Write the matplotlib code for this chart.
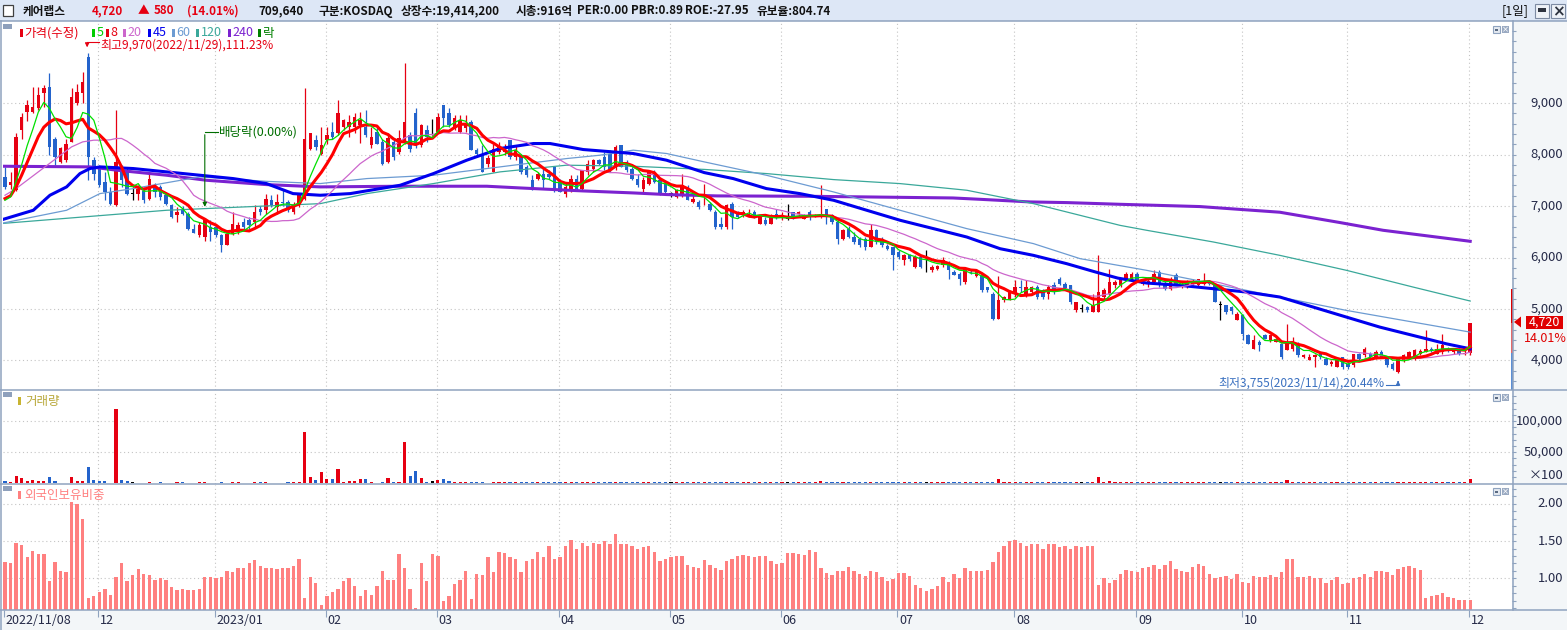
import numpy as np
import pandas as pd
import matplotlib
matplotlib.use('Agg')
import matplotlib.pyplot as plt
import matplotlib.transforms as mtrans
from matplotlib.patches import Rectangle, Polygon

KR = ['Noto Sans CJK KR', 'DejaVu Sans']
plt.rcParams['font.family'] = KR

# daily candles, 2022/11/08 .. 2023/12/01 (trading days)
opens = [
    7566, 7400, 7310, 8474, 8830, 8830, 8900, 9190, 9320, 8310,
    7860, 7890, 8250, 9000, 9190, 9900, 7890, 7760, 7470, 7275,
    7015, 7760, 7700, 7240, 7240, 7300, 7145, 7370, 7370, 7210,
    7015, 6820, 6950, 6850, 6560, 6430, 6400, 6594, 6593, 6430,
    6236, 6464, 6496, 6691, 6720, 6691, 6950, 6918, 7112, 6983,
    7080, 7080, 6885, 7015, 7145, 8118, 8280, 8021, 8280, 8442,
    8410, 8540, 8540, 8540, 8570, 8540, 8183, 8442, 8248, 7858,
    8248, 8053, 8248, 8378, 8799, 8183, 8475, 8410, 8442, 8961,
    8799, 8540, 8442, 8510, 8637, 8086, 7988, 7826, 7664, 8053,
    8053, 8280, 7960, 7988, 7761, 7502, 7534, 7631, 7630, 7761,
    7469, 7242, 7339, 7534, 7339, 7664, 7729, 7891, 7955, 8021,
    7761, 8183, 7826, 7729, 7534, 7339, 7437, 7664, 7502, 7437,
    7242, 7177, 7210, 7372, 7080, 7080, 7180, 7047, 6885, 6658,
    6593, 7047, 6853, 6820, 6820, 6885, 6658, 6723, 6658, 6850,
    6760, 6755, 6885, 6850, 6750, 6885, 6790, 6788, 6950, 6820,
    6690, 6366, 6561, 6398, 6366, 6366, 6204, 6528, 6366, 6230,
    6204, 6107, 5944, 6040, 5815, 6009, 5944, 5750, 5780, 5847,
    5912, 5717, 5685, 5523, 5720, 5650, 5652, 5420, 5296, 4809,
    5166, 5166, 5296, 5430, 5260, 5330, 5425, 5360, 5290, 5460,
    5588, 5490, 5458, 4971, 5004, 5037, 4939, 4939, 5231, 5297,
    5458, 5458, 5588, 5590, 5685, 5491, 5520, 5523, 5718, 5459,
    5394, 5653, 5426, 5426, 5490, 5459, 5490, 5550, 5491, 5069,
    5069, 5040, 4778, 4875, 4486, 4226, 4356, 4490, 4388, 4360,
    4323, 4194, 4220, 4323, 4064, 4000, 4064, 4130, 4031, 3930,
    3869, 4064, 3934, 3902, 4129, 4096, 4129, 4064, 4160, 4064,
    3934, 3772, 4000, 4031, 4031, 4129, 4160, 4226, 4129, 4160,
    4226, 4160, 4226, 4129, 4140]
highs = [
    7761, 7660, 8410, 8800, 9060, 9320, 9320, 9350, 9580, 8340,
    8150, 8300, 9290, 9380, 9610, 9970, 7955, 7790, 7660, 7370,
    8860, 7790, 7760, 7370, 7400, 7370, 7660, 7440, 7400, 7240,
    7047, 6980, 7000, 6880, 6660, 6690, 6760, 6720, 6626, 6460,
    6530, 6885, 6690, 6760, 6790, 7015, 7000, 7240, 7210, 7240,
    7340, 7110, 7080, 7240, 9285, 8410, 8380, 8540, 8540, 8640,
    9060, 8700, 8770, 8800, 8830, 8860, 8540, 8540, 8310, 8410,
    8280, 8470, 9772, 8440, 8900, 8600, 8570, 8700, 8800, 8961,
    8900, 8770, 8770, 8770, 8670, 8120, 8180, 7988, 8215, 8250,
    8200, 8280, 8180, 8020, 7790, 7600, 7660, 7760, 7700, 7761,
    7530, 7440, 7600, 7600, 7696, 7890, 7920, 7920, 8050, 8080,
    8180, 8183, 7890, 7760, 7630, 7560, 7700, 7700, 7530, 7470,
    7275, 7330, 7630, 7400, 7240, 7110, 7436, 7080, 6920, 6790,
    7047, 7080, 6900, 6920, 6950, 6920, 6790, 6790, 6850, 6950,
    6880, 7047, 6885, 6900, 6850, 6920, 6850, 7404, 6950, 6850,
    6720, 6560, 6620, 6500, 6400, 6400, 6660, 6560, 6400, 6270,
    6204, 6140, 6070, 6070, 6040, 6040, 6140, 5850, 5850, 6010,
    5940, 5750, 5717, 5782, 5760, 5780, 5652, 5430, 5330, 5633,
    5260, 5360, 5555, 5555, 5555, 5450, 5460, 5390, 5460, 5520,
    5620, 5520, 5458, 5134, 5100, 5060, 5290, 6042, 5400, 5783,
    5560, 5590, 5720, 5720, 5720, 5590, 5620, 5750, 5750, 5550,
    5620, 5690, 5520, 5560, 5590, 5590, 5700, 5560, 5491, 5160,
    5069, 5050, 4940, 4900, 4520, 4486, 4390, 4520, 4520, 4440,
    4323, 4713, 4450, 4350, 4130, 4130, 4130, 4160, 4064, 4000,
    4064, 4064, 3966, 4129, 4140, 4260, 4160, 4194, 4194, 4064,
    3966, 4064, 4130, 4190, 4220, 4220, 4583, 4260, 4323, 4518,
    4260, 4226, 4250, 4226, 4720]
lows = [
    7339, 7340, 7300, 8300, 8660, 8800, 8860, 8930, 7990, 7790,
    7830, 7850, 8250, 8960, 9000, 7500, 7500, 7370, 7110, 7015,
    7010, 7370, 7210, 7110, 7110, 7050, 7110, 7180, 7110, 7015,
    6760, 6690, 6820, 6530, 6470, 6400, 6330, 6330, 6400, 6110,
    6236, 6430, 6460, 6560, 6560, 6590, 6820, 6850, 6980, 6850,
    7000, 6890, 6850, 6980, 7110, 8090, 8090, 8000, 8210, 8310,
    8380, 8480, 8350, 8410, 8220, 8350, 8120, 8210, 7790, 7830,
    7890, 8020, 8215, 8050, 8120, 8150, 8250, 8380, 8410, 8540,
    8540, 8480, 8410, 8440, 8086, 7960, 7664, 7760, 7664, 8020,
    8000, 7920, 7890, 7630, 7570, 7307, 7500, 7340, 7530, 7275,
    7274, 7180, 7270, 7300, 7300, 7600, 7660, 7800, 7700, 7660,
    7700, 7761, 7660, 7500, 7370, 7270, 7400, 7440, 7210, 7210,
    7180, 7150, 7180, 7112, 7050, 6950, 7014, 6900, 6560, 6560,
    6560, 6560, 6770, 6790, 6790, 6760, 6658, 6640, 6658, 6750,
    6720, 6720, 6750, 6790, 6740, 6720, 6780, 6760, 6660, 6660,
    6269, 6340, 6370, 6270, 6200, 6140, 6204, 6270, 6200, 6140,
    5750, 5980, 5850, 5940, 5790, 5790, 5720, 5720, 5750, 5810,
    5588, 5652, 5460, 5490, 5680, 5620, 5330, 5330, 4777, 4809,
    5130, 5166, 5230, 5330, 5230, 5300, 5200, 5200, 5200, 5300,
    5460, 5360, 5100, 4940, 4940, 4940, 4939, 4939, 5200, 5270,
    5400, 5430, 5560, 5560, 5520, 5460, 5430, 5490, 5430, 5360,
    5360, 5460, 5400, 5400, 5460, 5430, 5460, 5460, 5134, 4778,
    4900, 4900, 4778, 4388, 4323, 4226, 4190, 4420, 4360, 4360,
    4031, 4194, 4190, 4064, 4040, 4000, 3869, 4031, 3902, 3900,
    3869, 3837, 3837, 3870, 4000, 4064, 4000, 4031, 4064, 3869,
    3805, 3755, 3966, 4031, 4000, 4100, 4160, 4160, 4129, 4130,
    4160, 4130, 4115, 4100, 4100]
closes = [
    7372, 7470, 8345, 8734, 8960, 8930, 9160, 9290, 8150, 7955,
    8120, 8215, 9120, 9220, 9415, 7955, 7630, 7400, 7275, 7047,
    7860, 7500, 7240, 7240, 7340, 7110, 7534, 7275, 7180, 7047,
    6790, 6885, 6850, 6560, 6480, 6626, 6723, 6496, 6430, 6236,
    6463, 6658, 6626, 6593, 6626, 6885, 6880, 7145, 7015, 7080,
    7050, 6918, 7015, 7210, 8312, 8410, 8150, 8183, 8378, 8345,
    8799, 8670, 8640, 8734, 8670, 8378, 8345, 8215, 7826, 8313,
    7956, 8313, 8637, 8118, 8183, 8572, 8345, 8410, 8734, 8702,
    8572, 8702, 8669, 8600, 8086, 8021, 7664, 7924, 8118, 8151,
    8150, 7956, 8086, 7664, 7599, 7307, 7631, 7501, 7560, 7307,
    7274, 7372, 7534, 7339, 7696, 7826, 7891, 7826, 7761, 7696,
    8151, 7761, 7696, 7534, 7404, 7501, 7664, 7469, 7242, 7275,
    7242, 7307, 7404, 7112, 7145, 6983, 7210, 6917, 6593, 6593,
    7015, 6788, 6788, 6885, 6850, 6788, 6788, 6658, 6820, 6790,
    6820, 6755, 6788, 6880, 6820, 6788, 6820, 6850, 6788, 6690,
    6366, 6528, 6398, 6301, 6236, 6204, 6528, 6301, 6236, 6170,
    6042, 6009, 6042, 5980, 6009, 5815, 5944, 5815, 5830, 5944,
    5750, 5652, 5588, 5782, 5700, 5750, 5361, 5360, 4809, 5166,
    5231, 5330, 5425, 5400, 5425, 5425, 5231, 5230, 5425, 5360,
    5490, 5400, 5134, 5134, 5004, 4972, 5069, 5329, 5361, 5523,
    5523, 5588, 5685, 5685, 5556, 5556, 5550, 5685, 5459, 5394,
    5588, 5491, 5491, 5520, 5550, 5588, 5550, 5490, 5134, 5069,
    4939, 4970, 4907, 4518, 4323, 4388, 4291, 4420, 4486, 4420,
    4064, 4356, 4356, 4096, 4096, 4064, 4096, 4064, 3902, 3966,
    4031, 3869, 3869, 4129, 4031, 4226, 4064, 4160, 4064, 3902,
    3837, 4064, 4096, 4160, 4194, 4190, 4226, 4194, 4226, 4291,
    4194, 4200, 4129, 4140, 4720]

# volume in units of 100 shares
volumes = [
    3200, 1600, 12400, 9100, 4300, 5900, 3200, 3200, 10750, 4300,
    1000, 1000, 10750, 4300, 4300, 26900, 5900, 3200, 4300, 1000,
    120400, 5900, 4300, 1600, 1000, 1000, 2700, 1100, 1200, 1000,
    1100, 1300, 1200, 1000, 1100, 1200, 1300, 1100, 1000, 1200,
    1100, 1300, 1200, 1000, 1100, 1300, 1200, 2700, 1100, 1000,
    1100, 1300, 1200, 1400, 83300, 10750, 5900, 18800, 7500, 7500,
    23650, 2700, 4300, 4300, 7500, 7500, 2700, 1000, 2700, 9100,
    1600, 2700, 67200, 12400, 20400, 9100, 2700, 4300, 5900, 7500,
    4300, 2700, 2700, 2700, 2700, 2700, 2700, 1000, 2700, 1600,
    1500, 1400, 1500, 1300, 1600, 1400, 1500, 1300, 1400, 1500,
    1400, 1300, 1500, 1400, 1600, 1500, 1300, 1400, 1500, 1400,
    1600, 1500, 1300, 1400, 1400, 1300, 1500, 1400, 1600, 1500,
    1400, 1300, 1500, 1400, 1300, 1500, 1600, 1400, 1500, 1300,
    1400, 1500, 1300, 1400, 1500, 1300, 1400, 1500, 1300, 1400,
    1500, 1400, 1300, 1500, 1400, 1300, 1500, 3000, 1400, 1500,
    1600, 1400, 1300, 1500, 1400, 1300, 1500, 1400, 1300, 1500,
    1600, 1400, 1300, 1500, 1400, 1300, 1500, 1400, 1300, 1500,
    1400, 1300, 1500, 1400, 1300, 1500, 1400, 1300, 1600, 6000,
    1500, 1400, 1300, 1500, 1400, 1300, 1500, 1400, 1300, 1500,
    1400, 1300, 1500, 1400, 1300, 1500, 1400, 10750, 1500, 3200,
    1500, 1400, 1300, 1500, 1400, 1300, 1500, 1400, 1300, 1500,
    1400, 1300, 1500, 1400, 1300, 1500, 1400, 1300, 1500, 1400,
    1300, 1500, 1400, 1300, 1500, 1400, 1300, 1500, 1400, 1300,
    1500, 4800, 1400, 1300, 1500, 1400, 1300, 1500, 1400, 1300,
    1500, 1400, 1300, 1500, 1400, 1300, 1500, 1400, 1300, 1500,
    1400, 1300, 1500, 1400, 1300, 1500, 2700, 1400, 1300, 1500,
    1400, 1300, 1500, 1400, 7096]

# foreign ownership ratio (%)
foreign = [
    1.22, 1.20, 1.48, 1.45, 1.28, 1.37, 1.33, 1.33, 0.97, 1.22,
    1.10, 1.09, 2.02, 2.00, 1.80, 0.74, 0.76, 0.82, 0.86, 0.78,
    1.02, 1.21, 0.96, 1.04, 1.12, 1.06, 1.04, 0.98, 1.00, 0.98,
    0.88, 0.85, 0.86, 0.84, 0.85, 0.86, 1.02, 1.02, 1.01, 1.02,
    1.10, 1.09, 1.14, 1.14, 1.21, 1.25, 1.17, 1.14, 1.14, 1.13,
    1.14, 1.14, 1.17, 1.26, 0.74, 1.02, 0.94, 0.64, 0.77, 0.82,
    0.86, 0.97, 1.00, 0.90, 0.77, 0.84, 0.78, 0.90, 1.10, 0.98,
    0.98, 1.33, 1.14, 0.86, 0.61, 1.20, 0.96, 1.32, 1.30, 0.70,
    0.77, 0.93, 0.98, 1.10, 0.72, 1.06, 1.04, 1.29, 1.09, 1.36,
    1.34, 1.29, 1.26, 1.08, 1.23, 1.26, 1.36, 1.28, 1.43, 1.26,
    1.28, 1.43, 1.51, 1.40, 1.48, 1.44, 1.48, 1.46, 1.50, 1.46,
    1.60, 1.46, 1.46, 1.43, 1.39, 1.42, 1.44, 1.35, 1.23, 1.26,
    1.28, 1.30, 1.30, 1.18, 1.15, 1.14, 1.24, 1.18, 1.14, 1.11,
    1.23, 1.26, 1.30, 1.31, 1.30, 1.28, 1.30, 1.30, 1.23, 1.19,
    1.20, 1.34, 1.34, 1.32, 1.31, 1.38, 1.35, 1.14, 1.07, 1.04,
    1.10, 1.10, 1.15, 1.10, 1.06, 1.03, 1.10, 1.08, 1.02, 0.96,
    0.99, 1.07, 1.07, 1.03, 0.91, 0.87, 0.83, 0.86, 0.90, 1.02,
    0.95, 1.06, 1.00, 1.14, 1.10, 1.10, 1.10, 1.11, 1.22, 1.36,
    1.44, 1.50, 1.51, 1.48, 1.44, 1.46, 1.46, 1.40, 1.46, 1.46,
    1.42, 1.43, 1.40, 1.44, 1.42, 1.44, 1.44, 0.91, 1.00, 0.94,
    0.98, 1.06, 1.11, 1.10, 1.08, 1.14, 1.15, 1.18, 1.12, 1.18,
    1.23, 1.12, 1.10, 1.08, 1.15, 1.19, 1.16, 1.06, 1.00, 1.02,
    1.03, 0.99, 1.06, 0.95, 0.94, 1.03, 1.02, 1.02, 1.04, 1.02,
    1.08, 1.26, 1.26, 1.02, 1.02, 1.03, 1.00, 1.00, 0.94, 0.98,
    1.02, 0.92, 0.94, 1.00, 1.02, 1.06, 1.02, 1.10, 1.10, 1.08,
    1.04, 1.12, 1.15, 1.16, 1.14, 1.11, 0.74, 0.76, 0.78, 0.80,
    0.75, 0.74, 0.71, 0.71, 0.71]

# short averages at the left edge (window reaches before the first bar)
ma5_head_x = [0, 1, 2, 3]
ma5_head_y = [7112, 7177, 7480, 7800]
ma8_head_x = [0, 1, 2, 3, 4, 5, 6]
ma8_head_y = [7145, 7200, 7372, 7600, 7850, 8100, 8350]
ma20_head_x = [0, 2, 4, 6, 8, 10, 12, 14, 16, 18]
ma20_head_y = [7210, 7339, 7502, 7664, 7826, 7988, 8150, 8247, 8280, 8280]

# long moving averages (bar index, price)
ma45_x = [-0.9, 5.1, 8.1, 11.1, 13.5, 15.3, 17.1, 23.1, 29.1, 35.1, 41.1, 47.1, 51.9, 56.8,
          62.2, 71.2, 77.2, 83.2, 89.2, 95.2, 98.2, 104.2, 113.2, 119.2, 126.0, 131.2, 137.2,
          143.2, 149.3, 155.3, 161.3, 167.3, 173.3, 179.3, 185.3, 191.3, 196.5, 200.5, 205.7,
          211.7, 217.7, 223.7, 229.7, 235.7, 241.7, 247.7, 253.7, 259.7, 264]
ma45_y = [6723, 6918, 7210, 7372, 7631, 7729, 7761, 7729, 7664, 7599, 7534, 7437, 7242, 7210,
          7242, 7404, 7631, 7891, 8118, 8215, 8215, 8098, 8021, 7891, 7650, 7534, 7339,
          7242, 7112, 6917, 6723, 6561, 6398, 6171, 6042, 5880, 5718, 5600, 5504,
          5459, 5394, 5329, 5232, 5037, 4842, 4648, 4486, 4323, 4226]
ma60_x = [-0.9, 11.1, 17.1, 23.1, 35.1, 47.1, 56.8, 65.2, 77.2, 89.2, 101.2, 107.2, 113.2,
          119.2, 126.0, 137.2, 149.3, 161.3, 173.3, 185.3, 193.7, 205.7, 217.7, 229.7, 241.7,
          253.7, 264]
ma60_y = [6658, 6918, 7242, 7339, 7566, 7480, 7437, 7534, 7599, 7761, 7923, 7988, 8086,
          8021, 7858, 7598, 7274, 6917, 6561, 6270, 5978, 5751, 5491, 5232, 4972,
          4745, 4550]
ma120_x = [-0.9, 29.1, 56.8, 65.2, 77.2, 89.2, 101.2, 113.2, 126.0, 137.2, 149.3, 161.3,
           173.3, 185.3, 200.9, 205.7, 217.7, 229.7, 241.7, 253.7, 264]
ma120_y = [6658, 6918, 7047, 7242, 7437, 7664, 7794, 7774, 7712, 7631, 7514, 7436,
           7307, 7047, 6625, 6529, 6302, 6042, 5751, 5426, 5154]
ma240_x = [-0.9, 15.3, 20.2, 29.1, 36.3, 47.1, 56.8, 71.2, 86.8, 92.8, 104.1, 113.2, 119.3,
           128.3, 144.5, 155.3, 170.8, 175.7, 184.7, 191.4, 200.9, 215.3, 229.7, 240.5,
           248.3, 264]
ma240_y = [7774, 7761, 7696, 7599, 7501, 7417, 7372, 7385, 7385, 7352, 7294, 7255, 7223,
           7197, 7190, 7177, 7157, 7131, 7080, 7067, 7034, 6990, 6880, 6680,
           6529, 6315]

month_starts = [0, 17, 38, 58, 78, 100, 120, 140, 161, 182, 204, 223, 242, 264]
month_labels = ['2022/11/08', '12', '2023/01', '02', '03', '04', '05', '06', '07',
                '08', '09', '10', '11', '12']

price_ticks = [4000, 5000, 6000, 7000, 8000, 9000]
vol_ticks = [50000, 100000]
foreign_ticks = [1.0, 1.5, 2.0]

title_parts = [(23, '케어랩스', 'black'), (92, '4,720', 'red'), (138, '▲', 'red'),
               (154, '580', 'red'), (187, '(14.01%)', 'red'), (258, '709,640', 'black'),
               (319, '구분:KOSDAQ', 'black'), (401, '상장수:19,414,200', 'black'),
               (516, '시총:916억', 'black'), (577, 'PER:0.00', 'black'),
               (631, 'PBR:0.89', 'black'), (685, 'ROE:-27.95', 'black'),
               (757, '유보율:804.74', 'black')]

RED = '#e60012'
BLUE = '#2363cc'
LINE = '#8fa3bf'
GRID = '#c4c4c4'
AXTXT = '#252a48'
STRIP = '#f3f6f8'

W, H = 1567, 630
X0, X1 = 3, 1512
STEP = 5.55

o = np.array(opens, float)
h = np.array(highs, float)
l = np.array(lows, float)
c = np.array(closes, float)
n = len(c)
idx = np.arange(n)
cols = np.where(c > o, RED, np.where(c < o, BLUE, 'black'))

cs = pd.Series(c)
ma5 = cs.rolling(5).mean()
ma8 = cs.rolling(8).mean()
ma20 = cs.rolling(20).mean()


def joined(head_x, head_y, full, win):
    xs = list(head_x) + list(idx[win - 1:])
    ys = list(head_y) + list(full.values[win - 1:])
    return xs, ys


def pxf(x, y):
    return (x / W, 1 - y / H)


def rect(x0, y0, x1, y1):
    return [x0 / W, 1 - y1 / H, (x1 - x0) / W, (y1 - y0) / H]


def frect(x0, y0, x1, y1, **kw):
    r = Rectangle(pxf(x0, y1), (x1 - x0) / W, (y1 - y0) / H, transform=fig.transFigure, **kw)
    fig.add_artist(r)
    return r


fig = plt.figure(figsize=(W / 100, H / 100), dpi=100)
fig.patch.set_facecolor('white')

# background strips
frect(0, 0, W, 20.5, facecolor='#dde7f6', edgecolor='none', zorder=-5)
frect(X1, 21, W, 610, facecolor=STRIP, edgecolor='none', zorder=-5)
frect(0, 610, W, H, facecolor=STRIP, edgecolor='none', zorder=-5)

ax_p = fig.add_axes(rect(X0, 21, X1, 389.5))
ax_v = fig.add_axes(rect(X0, 390.5, X1, 483.5))
ax_f = fig.add_axes(rect(X0, 484.5, X1, 610))

xlo, xhi = (X0 - 5) / STEP, (X1 - 5) / STEP
for ax in (ax_p, ax_v, ax_f):
    ax.set_xlim(xlo, xhi)
    ax.set_facecolor('white')
    for s in ax.spines.values():
        s.set_visible(False)
    ax.yaxis.tick_right()
    ax.tick_params(axis='y', which='both', direction='out', length=3, width=0.8,
                   color=LINE, labelright=False, labelleft=False)
    ax.tick_params(axis='x', which='both', length=0, labelbottom=False)
    for ms in month_starts[1:]:
        ax.axvline(ms - 0.2, color=GRID, lw=0.8, ls=(0, (1, 2.5)), zorder=0)

# ---- price panel ----
ax_p.set_ylim(3435, 10596)
ax_p.set_yticks(price_ticks)
ax_p.set_yticks(np.arange(3600, 10600, 200), minor=True)
for v in price_ticks:
    ax_p.axhline(v, color=GRID, lw=0.8, ls=(0, (1, 2.5)), zorder=0)

ax_p.vlines(idx, l, h, colors=cols, lw=0.9, zorder=2)
ax_p.bar(idx, np.maximum(np.abs(c - o), 18), bottom=np.minimum(o, c), width=0.62,
         color=cols, lw=0, zorder=2)

ax_p.plot(ma240_x, ma240_y, color='#7b22d0', lw=2.2, zorder=3)
ax_p.plot(ma120_x, ma120_y, color='#3aa89a', lw=0.9, zorder=3)
ax_p.plot(ma60_x, ma60_y, color='#6c9bd2', lw=0.9, zorder=3)
ax_p.plot(ma45_x, ma45_y, color='#0000ee', lw=2.2, zorder=3)
ax_p.plot(*joined(ma20_head_x, ma20_head_y, ma20, 20), color='#cc66cc', lw=0.9, zorder=3)
ax_p.plot(*joined(ma8_head_x, ma8_head_y, ma8, 8), color='#ff0000', lw=2.2, zorder=4)
ax_p.plot(*joined(ma5_head_x, ma5_head_y, ma5, 5), color='#00e000', lw=0.9, zorder=4)

# annotations
ax_p.text(17.2, 10135, '최고9,970(2022/11/29),111.23%', color=RED, fontsize=8.6,
          ha='left', va='center', zorder=6)
ax_p.plot([17.0, 14.8], [10190, 10190], color=RED, lw=0.8, zorder=6)
ax_p.annotate('', xy=(14.8, 10030), xytext=(14.8, 10200),
              arrowprops=dict(arrowstyle='-|>', color=RED, lw=0.8, mutation_scale=6))

ax_p.text(38.6, 8436, '배당락(0.00%)', color='#006e00', fontsize=9,
          ha='left', va='center', zorder=6)
ax_p.plot([38.4, 36], [8436, 8436], color='#006e00', lw=0.8, zorder=6)
ax_p.annotate('', xy=(36, 6930), xytext=(36, 8440),
              arrowprops=dict(arrowstyle='-|>', color='#006e00', lw=0.8, mutation_scale=6))

ax_p.text(248.6, 3555, '최저3,755(2023/11/14),20.44%', color='#3a70c0', fontsize=8.6,
          ha='right', va='center', zorder=6)
ax_p.plot([248.8, 251], [3530, 3530], color='#3a70c0', lw=0.8, zorder=6)
ax_p.annotate('', xy=(251, 3660), xytext=(251, 3525),
              arrowprops=dict(arrowstyle='-|>', color='#3a70c0', lw=0.8, mutation_scale=6))

lab_x = (1563 - X0) / (X1 - X0)
tp = mtrans.blended_transform_factory(ax_p.transAxes, ax_p.transData)
for v in price_ticks:
    ax_p.text(lab_x, v, f'{v:,}', transform=tp, ha='right', va='center', fontsize=9.4,
              color=AXTXT, clip_on=False)

# daily range bar on the price axis
bx0 = (X1 - 1.5 - X0) / (X1 - X0)
bw = 3.0 / (X1 - X0)
prev_close = c[-2]
for y0, y1, col in [(c[-1], 5380, '#dd0000'), (prev_close, c[-1], '#e46a6a'),
                    (3435, prev_close, '#5b8fd6')]:
    ax_p.add_patch(Rectangle((bx0, y0), bw, y1 - y0, transform=tp, facecolor=col,
                             edgecolor='none', clip_on=False, zorder=5))

# ---- volume panel ----
ax_v.set_ylim(-480, 149500)
ax_v.set_yticks(vol_ticks)
ax_v.set_yticks(np.arange(10000, 150000, 10000), minor=True)
for v in vol_ticks:
    ax_v.axhline(v, color=GRID, lw=0.8, ls=(0, (1, 2.5)), zorder=0)
ax_v.bar(idx, volumes, width=0.56, color=cols, lw=0, zorder=2)
tv = mtrans.blended_transform_factory(ax_v.transAxes, ax_v.transData)
for v in vol_ticks:
    ax_v.text(lab_x, v, f'{v:,}', transform=tv, ha='right', va='center', fontsize=9.4,
              color=AXTXT, clip_on=False)
ax_v.text(lab_x, 12400, '×100', transform=tv, ha='right', va='center', fontsize=9.4,
          color=AXTXT, clip_on=False)

# ---- foreign ownership panel ----
ax_f.set_ylim(0.577, 2.257)
ax_f.set_yticks(foreign_ticks)
ax_f.set_yticks(np.arange(0.6, 2.26, 0.1), minor=True)
for v in foreign_ticks:
    ax_f.axhline(v, color=GRID, lw=0.8, ls=(0, (1, 2.5)), zorder=0)
ax_f.bar(idx, foreign, width=0.6, color='#ff8080', lw=0, zorder=2)
tf = mtrans.blended_transform_factory(ax_f.transAxes, ax_f.transData)
for v in foreign_ticks:
    ax_f.text(lab_x, v, f'{v:.2f}', transform=tf, ha='right', va='center', fontsize=9.4,
              color=AXTXT, clip_on=False)

# month ticks and labels below the last panel
ax_f.set_xticks([m - 0.2 for m in month_starts])
ax_f.tick_params(axis='x', which='major', length=5, width=0.8, color=LINE, direction='out')
tx = mtrans.blended_transform_factory(ax_f.transData, ax_f.transAxes)
for m, lab in zip(month_starts, month_labels):
    ax_f.text(m + 0.15, -0.085, lab, transform=tx, ha='left', va='center', fontsize=9,
              color=AXTXT, clip_on=False)

# ---- frame lines ----
for y in (20.5, 389.8, 484.0, 610.2):
    fig.add_artist(plt.Line2D([0, 1], [1 - y / H] * 2, transform=fig.transFigure,
                              color=LINE, lw=1.1))
fig.add_artist(plt.Line2D([(X1 + 0.5) / W] * 2, [1 - 610 / H, 1 - 21 / H],
                          transform=fig.transFigure, color=LINE, lw=1.1))
fig.add_artist(plt.Line2D([0.6 / W] * 2, [0, 1 - 21 / H], transform=fig.transFigure,
                          color=LINE, lw=1.1))

# ---- title bar ----
frect(3, 5, 13, 16, facecolor='white', edgecolor='#404040', lw=0.9)
for x, s, col in title_parts:
    fig.text(*pxf(x, 11), s, color=('#e60012' if col == 'red' else '#111111'),
             fontsize=8.4, ha='left', va='center', weight='bold')
fig.text(*pxf(1502, 11), '[1일]', fontsize=9, ha='left', va='center', color='#111111')
frect(1535, 4.5, 1549, 18, facecolor='#eef2f8', edgecolor='#7d8ba3', lw=0.8)
frect(1538, 8, 1546, 12, facecolor='#2e3440', edgecolor='none')
frect(1551, 4.5, 1565, 18, facecolor='#eef2f8', edgecolor='#7d8ba3', lw=0.8)
fig.text(*pxf(1558, 11.5), '×', fontsize=11, family='DejaVu Sans', weight='bold',
         ha='center', va='center', color='#2e3440')

# ---- panel legends and icons ----
for ytop in (24, 392, 486):
    frect(3, ytop, 12, ytop + 5, facecolor='#8ea0bc', edgecolor='none')
for ytop in (26, 394, 488):
    frect(1493, ytop, 1500, ytop + 7, facecolor='#e4e9f0', edgecolor='#8fa3bf', lw=0.8)
    frect(1495, ytop + 3, 1498, ytop + 4.5, facecolor='#5a6a82', edgecolor='none')
    frect(1502, ytop, 1509, ytop + 7, facecolor='#9aaac2', edgecolor='none')
    fig.text(*pxf(1505.5, ytop + 3.6), '×', fontsize=6, family='DejaVu Sans',
             ha='center', va='center', color='white')

legend_items = [(20, RED, '가격(수정)'), (92, '#00cc00', '5'), (106, RED, '8'),
                (123, '#cc66cc', '20'), (148, '#0000ee', '45'), (172, '#6c9bd2', '60'),
                (196, '#3aa89a', '120'), (228, '#7b22d0', '240'), (258, '#008000', '락')]
for x, col, s in legend_items:
    frect(x, 29, x + 3, 37, facecolor=col, edgecolor='none')
    fig.text(*pxf(x + 4.5, 33), s, color=col, fontsize=9, ha='left', va='center')

frect(18, 397, 21, 405, facecolor='#c8b432', edgecolor='none')
fig.text(*pxf(25, 401), '거래량', color='#b9a83a', fontsize=9, ha='left', va='center')
frect(18, 491, 21, 499, facecolor='#ff8080', edgecolor='none')
fig.text(*pxf(24, 495), '외국인보유비중', color='#ff8080', fontsize=9, ha='left', va='center')

# ---- current price marker on the right axis ----
frect(1526, 315.5, 1563, 328.5, facecolor='#e00000', edgecolor='none')
fig.text(*pxf(1544.5, 322), '4,720', color='white', fontsize=9, ha='center', va='center')
fig.add_artist(Polygon([pxf(1514, 322), pxf(1521, 316.5), pxf(1521, 327.5)], closed=True,
                       transform=fig.transFigure, facecolor='#e00000', edgecolor='none'))
fig.text(*pxf(1545, 338), '14.01%', color='#e00000', fontsize=9, ha='center', va='center')

fig.savefig('out.png', dpi=100)
